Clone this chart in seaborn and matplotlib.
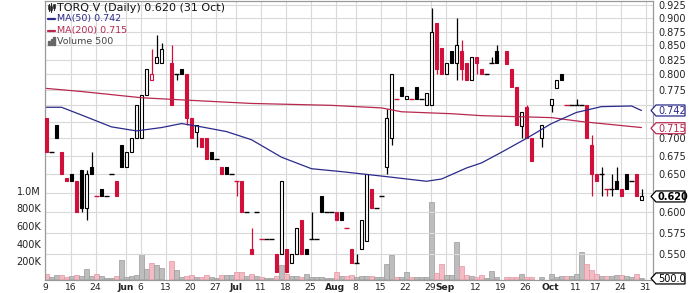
import numpy as np
import pandas as pd
import matplotlib
matplotlib.use("Agg")
import matplotlib.pyplot as plt
from matplotlib.lines import Line2D
from matplotlib.patches import Rectangle, Polygon
import seaborn as sns

nan = np.nan

# ---------------- data (one entry per trading day, 9 May .. 31 Oct) ----------------
opens = [nan, .730, .680, .720, .680, .645, .650, .640, .655, .605,
         .660, .620, .630, .620, .650, .640, .690, .660, .680, .700,
         .700, .767, .790, .820, .820, nan, .820, .800, .810, .800,
         .730, .710, .700, .700, .680, .670, .660, .660, .650, .640,
         .640, .600, .555, .600, .567, .567, .567, .550, .550, .555,
         .540, .550, .590, .555, .567, .567, .620, .600, .600, .600,
         .600, .580, .555, .540, .555, .565, .630, .605, .620, .660,
         .700, .760, .780, .760, .760, .780, .760, .750, .750, .890,
         .845, .800, .840, .820, .840, .820, .790, .830, .810, .800,
         .820, .840, nan, .840, .810, .780, .718, .748, .700, nan,
         .700, nan, .750, .778, .800, .750, .750, .750, .750, .750,
         .690, .650, .650, .630, .630, .640, .630, .650, .640, .650,
         .615]
highs = [nan, .730, .680, .720, .680, .645, .650, .640, .655, .655,
         .680, .620, .630, .620, .650, .640, .690, .680, .700, .750,
         .767, .810, .843, .868, .855, nan, .850, .800, .810, .800,
         .730, .720, .700, .700, .680, .670, .660, .660, .650, .640,
         .640, .600, .580, .600, .567, .567, .567, .550, .640, .555,
         .550, .580, .590, .555, .600, .567, .620, .600, .600, .600,
         .600, .580, .555, .550, .590, .650, .630, .605, .620, .745,
         .800, .760, .780, .765, .760, .780, .760, .770, .920, .890,
         .845, .820, .840, .900, .860, .820, .830, .830, .810, .800,
         .830, .850, nan, .840, .810, .780, .740, .750, .700, nan,
         .720, nan, .760, .790, .800, .750, .750, .760, .750, .750,
         .705, .650, .660, .630, .650, .660, .630, .650, .640, .650,
         .630]
lows = [nan, .680, .680, .700, .650, .640, .640, .600, .600, .590,
        .650, .620, .620, .620, .650, .620, .660, .660, .680, .700,
        .700, .767, .790, .820, .820, nan, .750, .790, .800, .720,
        .700, .688, .688, .670, .670, .670, .650, .650, .650, .620,
        .600, .600, .550, .600, .567, .567, .567, .530, .550, .530,
        .540, .550, .550, .550, .567, .567, .600, .600, .600, .590,
        .590, .580, .540, .540, .555, .565, .605, .605, .620, .650,
        .690, .760, .765, .760, .760, .760, .760, .750, .750, .800,
        .800, .800, .820, .790, .790, .790, .790, .800, .800, .800,
        .820, .820, nan, .818, .780, .720, .700, .700, .668, nan,
        .688, nan, .740, .778, .790, .750, .750, .750, .750, .700,
        .620, .640, .620, .620, .620, .630, .620, .630, .640, .620,
        .615]
closes = [nan, .680, .680, .700, .650, .640, .640, .600, .605, .650,
          .650, .620, .620, .620, .650, .620, .660, .680, .700, .750,
          .767, .810, .800, .830, .843, nan, .750, .800, .800, .730,
          .700, .720, .688, .670, .670, .670, .650, .650, .650, .640,
          .600, .600, .550, .600, .567, .567, .567, .530, .640, .530,
          .550, .580, .550, .550, .567, .567, .600, .600, .600, .590,
          .590, .580, .540, .540, .590, .650, .605, .605, .620, .730,
          .800, .760, .765, .765, .760, .760, .760, .770, .875, .810,
          .800, .820, .820, .850, .810, .790, .830, .820, .800, .800,
          .820, .820, nan, .818, .780, .720, .740, .700, .668, nan,
          .720, nan, .760, .790, .790, .750, .750, .750, .750, .700,
          .650, .640, .650, .630, .630, .630, .620, .630, .640, .620,
          .620]
volumes_k = [nan, 50, 20, 40, 40, 20, 30, 40, 30, 110,
             30, 50, 25, 10, 10, 25, 210, 20, 30, 40,
             280, 110, 180, 150, 120, nan, 200, 100, 20, 30,
             40, 15, 15, 40, 15, 10, 40, 40, 35, 75,
             75, 30, 50, 25, 20, 10, 10, 25, 150, 50,
             25, 25, 20, 50, 15, 15, 15, 10, 10, 80,
             30, 30, 40, 20, 25, 25, 25, 20, 20, 165,
             270, 20, 20, 70, 15, 15, 15, 20, 875, 60,
             170, 40, 40, 415, 140, 40, 30, 20, 40, 10,
             90, 20, nan, 20, 20, 20, 50, 20, 20, nan,
             20, nan, 50, 20, 25, 25, 25, 50, 300, 170,
             100, 50, 30, 30, 30, 35, 35, 25, 20, 50,
             0.5]

# moving averages (trading-day index, value)
ma50_days = [1, 4, 8, 14, 19, 24, 28, 32, 37, 42, 48, 54, 60, 68, 77, 80,
             85, 88, 92, 97, 102, 107, 112, 118, 120]
ma50 = [.747, .747, .735, .717, .711, .716, .722, .717, .710, .698, .673, .657,
        .653, .647, .640, .643, .658, .665, .680, .700, .722, .739, .748, .749, .742]
ma200_days = [1, 8, 20, 32, 42, 58, 68, 72, 82, 88, 102, 108, 120]
ma200 = [.777, .772, .762, .757, .753, .750, .746, .740, .737, .734, .731, .725, .716]

tick_days = [0, 5, 10, 16, 19, 24, 29, 34, 38, 43, 48, 53, 58, 62, 67, 72, 77,
             80, 86, 91, 96, 101, 106, 110, 115, 120]
tick_labels = ["9", "16", "24", "Jun", "6", "13", "20", "27", "Jul", "11", "18",
               "25", "Aug", "8", "15", "22", "29", "Sep", "12", "19", "26",
               "Oct", "11", "17", "24", "31"]
month_labels = {"Jun", "Jul", "Aug", "Sep", "Oct"}

price_ticks = [0.550, 0.575, 0.600, 0.625, 0.650, 0.675, 0.700, 0.725, 0.750,
               0.775, 0.800, 0.825, 0.850, 0.875, 0.900, 0.925]
covered_ticks = {0.625, 0.725, 0.750}   # hidden behind the value tags
vol_ticks = [200, 400, 600, 800, 1000]
vol_tick_labels = ["200K", "400K", "600K", "800K", "1.0M"]

last_close, last_ma50, last_ma200, last_vol = 0.620, 0.742, 0.715, 500.0

# ---------------- styling ----------------
sns.set_theme(style="white")
plt.rcParams['font.family'] = ['DejaVu Sans']

RED = "#d0103a"
BLACK = "#000000"
NAVY = "#2a2a8c"
CRIMSON = "#b8284e"
GRID = "#d9d9d9"
TICK_SHIFT = 0.8          # gridlines/labels sit slightly right of the candle centre

W, H = 700, 293
fig = plt.figure(figsize=(W / 100, H / 100), dpi=100)
L, R, T, B = 45, 653, 1, 280
ax = fig.add_axes([L / W, 1 - B / H, (R - L) / W, (B - T) / H])
ax2 = ax.twinx()

df = pd.DataFrame({"open": opens, "high": highs, "low": lows,
                   "close": closes, "vol": volumes_k})
df["day"] = np.arange(len(df))
prev = df["close"].ffill().shift(1)
prev = prev.fillna(df["open"])
df["up"] = df["close"] >= prev

# ---------------- volume (left axis) ----------------
vd = df.dropna(subset=["vol"])
ax.bar(vd["day"], vd["vol"], width=0.85,
       color=np.where(vd["up"], "#bdbdbd", "#f3bcc4"),
       edgecolor=np.where(vd["up"], "#9a9a9a", "#e496a3"), linewidth=0.5, zorder=2)
ax.set_ylim(-17, 3171)
ax.set_yticks(vol_ticks)
ax.set_yticklabels(vol_tick_labels)
ax.tick_params(axis="y", length=0, pad=3, labelsize=7, labelcolor="#222222")
ax.set_xticks([d + TICK_SHIFT for d in tick_days])
ax.set_xticklabels(tick_labels)
for lab in ax.get_xticklabels():
    if lab.get_text() in month_labels:
        lab.set_fontweight("bold")
ax.tick_params(axis="x", length=0, pad=2, labelsize=6.6, labelcolor="#222222")
ax.grid(axis="x", color=GRID, linewidth=0.8)
ax.grid(axis="y", visible=False)
ax.set_axisbelow(True)
ax.set_xlim(0.7, 122.3)

# ---------------- price (right axis, log) ----------------
ax2.set_yscale("log")
ax2.set_ylim(0.5207, 0.9327)
ax2.yaxis.set_major_locator(matplotlib.ticker.FixedLocator(price_ticks))
ax2.yaxis.set_minor_locator(matplotlib.ticker.NullLocator())
ax2.set_yticklabels(["" if p in covered_ticks else f"{p:.3f}" for p in price_ticks])
ax2.tick_params(axis="y", length=0, pad=4, labelsize=7, labelcolor="#222222")
ax2.grid(axis="y", which="major", color=GRID, linewidth=0.8)
ax2.set_axisbelow(True)

cd = df.dropna(subset=["close"])
for _, r in cd.iterrows():
    col = BLACK if r["up"] else RED
    d = r["day"]
    ax2.vlines(d, r["low"], r["high"], color=col, linewidth=0.9, zorder=3)
    if r["close"] == r["open"]:
        ax2.hlines(r["close"], d - 0.5, d + 0.5, color=col, linewidth=1.0, zorder=4)
    else:
        lo, hi = min(r["open"], r["close"]), max(r["open"], r["close"])
        face = "white" if r["close"] > r["open"] else col
        ax2.bar(d, hi - lo, bottom=lo, width=0.78, color=face, edgecolor=col,
                linewidth=0.8, zorder=4)

sns.lineplot(x=ma200_days, y=ma200, ax=ax2, color=CRIMSON, linewidth=0.9,
             legend=False, zorder=5)
sns.lineplot(x=ma50_days, y=ma50, ax=ax2, color=NAVY, linewidth=0.9,
             legend=False, zorder=5)
ax2.set_xlim(0.7, 122.3)
ax2.set_ylabel("")
ax2.set_xlabel("")

for a in (ax, ax2):
    for s in a.spines.values():
        s.set_color("#999999")
        s.set_linewidth(0.8)


# ---------------- value tags on the right ----------------
def tag(axis, value, text, color, bold=False):
    ypx = axis.transData.transform((1, value))[1]
    x0, x1, xb, hh = 651, 685, 656, 5.5
    pts = [(x0, ypx), (xb, ypx - hh), (x1, ypx - hh), (x1, ypx + hh), (xb, ypx + hh)]
    fig.add_artist(Polygon([(px / W, py / H) for px, py in pts], closed=True,
                           fc="white", ec=color, lw=0.9, transform=fig.transFigure,
                           zorder=20))
    fig.text(658 / W, ypx / H, text, fontsize=7, color=color, va="center_baseline",
             ha="left", fontweight="bold" if bold else "normal", zorder=21)


tag(ax2, last_ma50, f"{last_ma50:.3f}", NAVY)
tag(ax2, last_ma200, f"{last_ma200:.3f}", CRIMSON)
tag(ax2, last_close, f"{last_close:.3f}", BLACK, bold=True)
tag(ax, last_vol / 1000, f"{last_vol:.1f}", BLACK)


# ---------------- legend block (top-left) ----------------
def fx(px):
    return px / W


def fy(py):
    return 1 - py / H


fig.text(fx(57), fy(8), "TORQ.V (Daily) 0.620 (31 Oct)", fontsize=8, va="center",
         ha="left", color="#111111")
fig.text(fx(57), fy(19), f"MA(50) {last_ma50:.3f}", fontsize=6.8, va="center",
         ha="left", color=NAVY)
fig.text(fx(57), fy(30.5), f"MA(200) {last_ma200:.3f}", fontsize=6.8, va="center",
         ha="left", color=CRIMSON)
fig.text(fx(57), fy(41.5), "Volume 500", fontsize=6.8, va="center", ha="left",
         color="#444444")
fig.add_artist(Line2D([fx(48), fx(55)], [fy(19), fy(19)], color=NAVY, lw=1.6))
fig.add_artist(Line2D([fx(48), fx(55)], [fy(30.5), fy(30.5)], color=CRIMSON, lw=1.6))
for k, hgt in enumerate([4, 6, 8]):
    fig.add_artist(Rectangle((fx(48 + 2.5 * k), fy(45)), 1.6 / W, hgt / H,
                             color="#666666", transform=fig.transFigure))
for k, (y0, y1) in enumerate([(4, 11), (3, 12), (5, 10)]):
    xk = 48.5 + 2.6 * k
    fig.add_artist(Line2D([fx(xk), fx(xk)], [fy(y1), fy(y0)], color="#222222", lw=0.8))
    fig.add_artist(Rectangle((fx(xk - 0.8), fy(y1 - 2)), 1.6 / W, 4 / H,
                             fc="#222222", ec="#222222", lw=0.4,
                             transform=fig.transFigure))

fig.savefig("out.png", dpi=100)
